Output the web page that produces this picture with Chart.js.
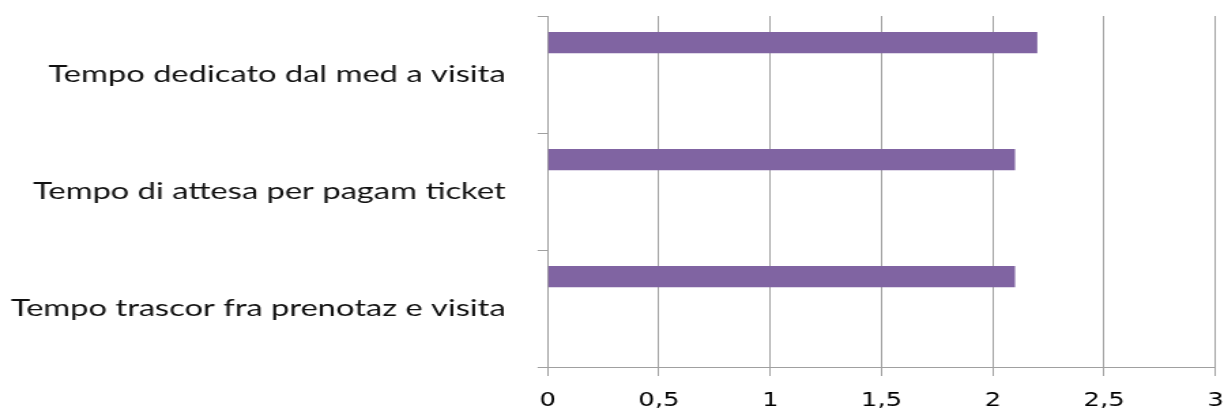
<!DOCTYPE html>
<html><head><meta charset="utf-8">
<script src="https://cdn.jsdelivr.net/npm/chart.js@4/dist/chart.umd.min.js"></script>
<style>
html,body{margin:0;padding:0;background:#fff;overflow:hidden;width:1226px;height:411px}
#wrap{position:absolute;left:0;top:0;height:411px;transform-origin:0 0}
</style></head>
<body><div id="wrap"><canvas id="c"></canvas></div>
<script>
const categories = [
  "Tempo dedicato dal med a visita",
  "Tempo di attesa per pagam ticket",
  "Tempo trascor fra prenotaz e visita"
];
const values = [2.2, 2.1, 2.1];
const emptySeries = [null, null, null];
const xTicks = ["0", "0,5", "1", "1,5", "2", "2,5", "3"];

const S = 1.36;               // horizontal stretch of the reference picture
const W = 1226 / S;
const wrap = document.getElementById('wrap');
wrap.style.width = W + 'px';
wrap.style.transform = 'scaleX(' + S + ')';

const gray = '#a0a0a0';
const barColor = '#8064A2';

new Chart(document.getElementById('c'), {
  type: 'bar',
  data: {
    labels: categories,
    datasets: [
      {data: values, backgroundColor: barColor},
      {data: emptySeries, backgroundColor: barColor},
      {data: emptySeries, backgroundColor: barColor},
      {data: emptySeries, backgroundColor: barColor}
    ]
  },
  options: {
    indexAxis: 'y',
    responsive: true,
    maintainAspectRatio: false,
    animation: false,
    categoryPercentage: 4 / 5.5,
    barPercentage: 1,
    layout: {padding: {left: 0, right: 12 / S, top: 16, bottom: 0}},
    plugins: {legend: {display: false}, tooltip: {enabled: false}},
    scales: {
      x: {
        min: 0, max: 3,
        ticks: {
          stepSize: 0.5, autoSkip: false, maxRotation: 0,
          color: '#000',
          font: {family: 'DejaVu Sans', size: 19},
          padding: 14,
          callback: (v, i) => xTicks[i]
        },
        grid: {color: gray, lineWidth: 1, tickLength: 9, drawTicks: true},
        border: {color: gray, width: 1},
        afterFit: s => { s.height = 44; s.paddingLeft = 0; s.paddingRight = 0; }
      },
      y: {
        ticks: {
          color: '#111',
          font: {family: 'Lato', size: 24},
          padding: 32 / S,
          autoSkip: false
        },
        grid: {offset: true, drawOnChartArea: false, drawTicks: true, tickLength: 10 / S, color: gray},
        border: {color: gray, width: 1},
        afterFit: s => { s.width = 547 / S; s.paddingTop = 0; s.paddingBottom = 0; }
      }
    }
  }
});
</script>
</body></html>
